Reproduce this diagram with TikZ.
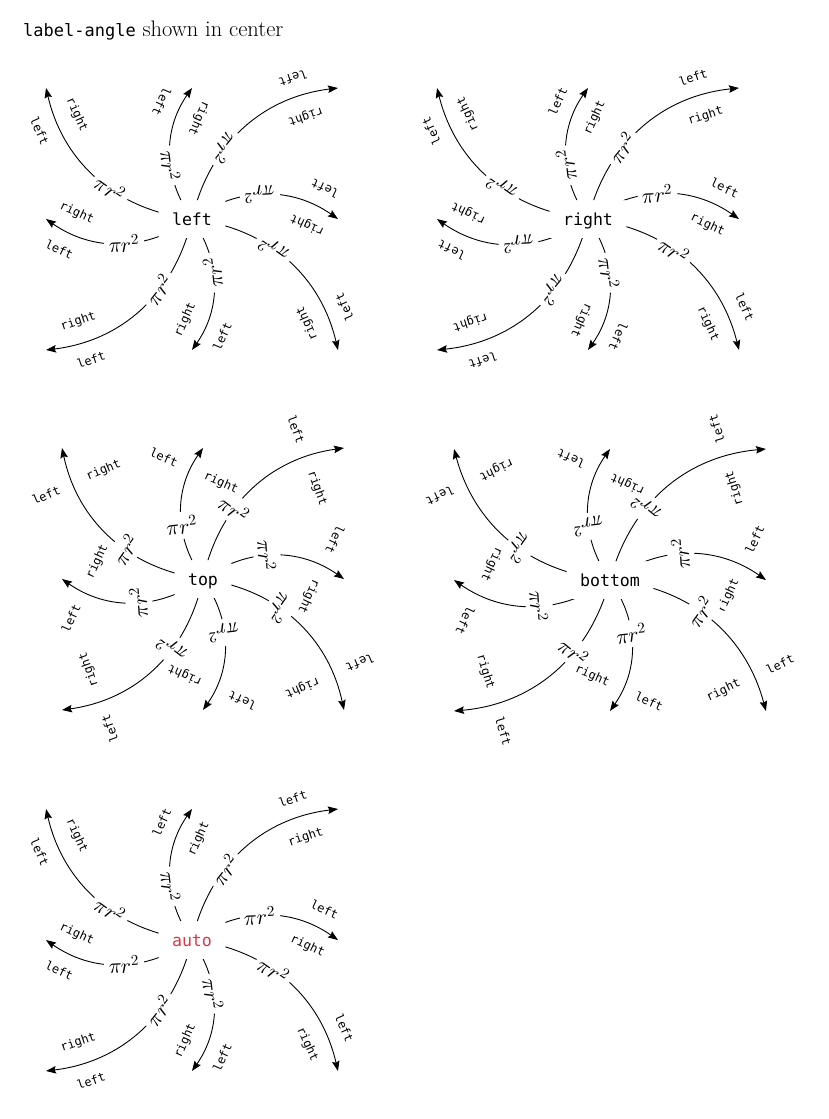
\documentclass[tikz,border=0pt]{standalone}
\usepackage{fontspec}
\usepackage{unicode-math}
\setmathfont{Latin Modern Math}
\setmonofont{DejaVu Sans Mono}
\usetikzlibrary{arrows.meta}
\definecolor{autored}{RGB}{222,55,72}
\tikzset{
  edgeline/.style={line width=0.9pt, nonzero rule, -{Stealth[length=10pt,width=7.5pt,inset=1.5pt]}},
  centernode/.style={font=\fontsize{16.6}{18}\selectfont\ttfamily, text height=12.4pt, text depth=0pt, inner sep=0pt},
  sidelabel/.style={font=\fontsize{12}{13}\selectfont\ttfamily, inner sep=1.5pt, outer sep=13.5pt},
  mathlabel/.style={font=\fontsize{21.5}{24}\selectfont, fill=white, inner sep=4.5pt},
}
\def\modeauto{auto}
% #1 prefix, #2 cx, #3 cy (from top), #4 text, #5 half text width, #6 rotation or auto
\newcommand\anglepanel[6]{%
  \begin{scope}
  \pgfmathsetmacro\pDX{#5+126}
  \pgfmathsetmacro\pHA{#5+13.5}
  \def\curmode{#6}
  \node[centernode] (#1c) at (#2,-#3) {#4};
  \begin{scope}[even odd rule]
  \clip (#2-330,-#3-330) rectangle (#2+330,-#3+330)
        (#2-\pHA,-#3-19) rectangle (#2+\pHA,-#3+19);
  \foreach \i/\j/\ra/\rb [count=\k] in {1/0/0/0, 1/1/0/0, 0/1/180/0, -1/1/180/180, -1/0/180/180, -1/-1/180/180, 0/-1/0/180, 1/-1/0/0} {
     \coordinate (#1e\k) at (#2+\i*\pDX, -#3+\j*131);
     \pgfmathsetmacro\pang{atan2(\j*131,\i*\pDX)+31}
     \pgfmathsetmacro\pcrop{min(\pHA/max(abs(cos(\pang)),0.001), 19/max(abs(sin(\pang)),0.001))}
     \pgfmathsetmacro\plen{1.065*veclen(\i*\pDX,\j*131)}
     \pgfmathsetmacro\tA{0.3+0.7*\pcrop/\plen}
     \pgfmathsetmacro\tB{0.8+0.2*\pcrop/\plen}
     \ifx\curmode\modeauto
       \edef\rA{\ra}\edef\rB{\rb}
     \else
       \edef\rA{#6}\edef\rB{#6}
     \fi
     \pgfmathtruncatemacro\aL{mod(-90-\rB+720,360)}
     \pgfmathtruncatemacro\aR{mod(90-\rB+720,360)}
     \draw[edgeline] (#1c.center) to[bend left=35]
        node[pos=\tA, sloped, allow upside down, rotate=\rA, mathlabel] {$\pi r^2$}
        node[pos=\tB, sloped, allow upside down, rotate=\rB, anchor=\aL, sidelabel] {left}
        node[pos=\tB, sloped, allow upside down, rotate=\rB, anchor=\aR, sidelabel] {right}
        (#1e\k);
  }
  \end{scope}
  \end{scope}
}
\begin{document}
\begin{tikzpicture}[x=1pt,y=1pt]
\useasboundingbox (0,0) rectangle (829,-1119);
\node[anchor=base west, inner sep=0pt, font=\fontsize{22.5}{25}\selectfont] (title) at (23,-36)
  {{\fontsize{17}{19}\selectfont\ttfamily label-angle} shown in center};
\anglepanel{pa}{192}{219}{left}{19.97}{180}
\anglepanel{pb}{588}{219}{right}{24.97}{0}
\anglepanel{pc}{203}{579}{top}{14.98}{-90}
\anglepanel{pd}{610}{580}{bottom}{29.96}{90}
\anglepanel{pe}{192}{940}{\textcolor{autored}{auto}}{19.97}{auto}
\end{tikzpicture}
\end{document}
